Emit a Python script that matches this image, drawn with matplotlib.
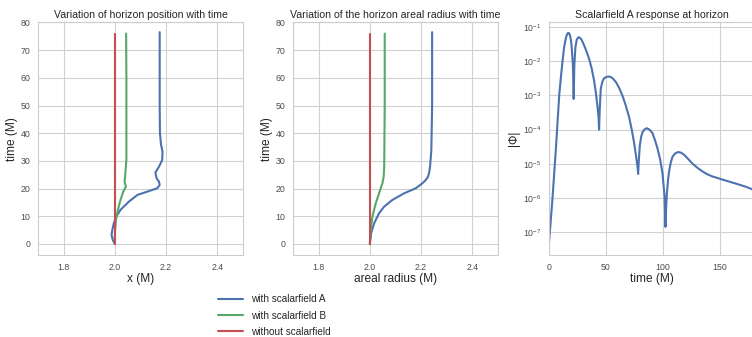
import matplotlib

matplotlib.use("Agg")
import matplotlib.pyplot as plt
import seaborn as sns

# panel 1: horizon position
t_pos_a = [0, 1.4, 3.3, 5, 7.5, 9.9, 12.3, 15.3, 17.7, 18.9, 20.1, 21.3, 22.5, 23.7, 25.8, 28, 30.4, 33.4, 36, 40, 50, 60, 76.5]
x_pos_a = [2.0, 1.992, 1.987, 1.99, 1.996, 2.006, 2.022, 2.055, 2.088, 2.127, 2.165, 2.175, 2.172, 2.163, 2.158, 2.173, 2.185, 2.186, 2.18, 2.176, 2.175, 2.175, 2.175]
t_pos_b = [0, 3.9, 8.7, 12.3, 15.9, 18.9, 20.7, 22.5, 25.5, 30.4, 40, 60, 76]
x_pos_b = [2.0, 2.0, 2.004, 2.012, 2.022, 2.033, 2.043, 2.038, 2.041, 2.045, 2.045, 2.045, 2.044]
t_pos_0 = [0, 76]
x_pos_0 = [2.0, 2.0]

# panel 2: areal radius
t_rad_a = [0, 3.9, 7.5, 11.1, 13.5, 15.9, 18.3, 20.1, 21.9, 23.2, 24.3, 26, 28, 34, 50, 76.5]
r_rad_a = [2.0, 2.005, 2.017, 2.036, 2.056, 2.088, 2.134, 2.179, 2.205, 2.219, 2.227, 2.232, 2.235, 2.240, 2.243, 2.243]
t_rad_b = [0, 5, 9.9, 14.7, 18.3, 21.9, 24.3, 28, 50, 76]
r_rad_b = [2.0, 2.003, 2.010, 2.023, 2.036, 2.049, 2.054, 2.056, 2.058, 2.058]
t_rad_0 = [0, 76]
r_rad_0 = [2.0, 2.0]

# panel 3: |Phi| of scalarfield A at the horizon
t_phi = [0, 1.5, 3, 6, 9, 10.5, 12, 13.3, 14.7, 15.7, 16.7, 17.6, 18.5, 19.3, 20.0, 21.0, 21.7,
         22.3, 23.2, 24.3, 25.3, 26.4, 28.5, 30.8, 33, 35.2, 37.5, 39.6, 41.2, 42.5, 43.5, 44.0,
         44.6, 45.5, 47, 48.4, 50.5, 52.8, 55.5, 58.7, 61.5, 64.5, 67.5, 70.4, 72.8, 74.8, 76.8,
         77.8, 78.3, 78.9, 79.8, 81, 82.1, 83.8, 85.9, 88.2, 90.9, 93, 95.3, 97.7, 99.7, 101.5,
         102.3, 103.0, 103.5, 104.5, 105.6, 107, 108.5, 110.8, 113.5, 116, 118.8, 122, 126.1,
         130.5, 134.9, 139, 143.7, 148, 152.5, 158, 164.2, 173, 180]
phi = [4.8e-8, 2.0e-7, 8.7e-7, 2.5e-5, 1.0e-3, 3.5e-3, 1.07e-2, 2.6e-2, 4.6e-2, 6.0e-2,
       6.8e-2, 6.7e-2, 5.8e-2, 4.2e-2, 2.5e-2, 7.9e-3, 7.9e-4, 7.9e-3, 2.5e-2, 4.2e-2, 4.9e-2,
       5.1e-2, 4.4e-2, 3.0e-2, 1.95e-2, 1.2e-2, 6.2e-3, 2.75e-3, 1.2e-3, 5.0e-4, 2.5e-4, 1.0e-4,
       4.0e-4, 1.6e-3, 2.6e-3, 3.2e-3, 3.5e-3, 3.6e-3, 3.3e-3, 2.5e-3, 1.7e-3, 1.0e-3, 5.0e-4,
       2.3e-4, 9.5e-5, 4.0e-5, 1.4e-5, 7.9e-6, 5.0e-6, 1.26e-5, 3.5e-5, 6.2e-5, 8.3e-5, 1.0e-4,
       1.1e-4, 1.0e-4, 7.9e-5, 5.0e-5, 2.8e-5, 1.3e-5, 5.2e-6, 1.1e-6, 1.4e-7, 6.3e-7, 1.26e-6,
       3.2e-6, 6.3e-6, 1.1e-5, 1.6e-5, 2.0e-5, 2.2e-5, 2.1e-5, 1.8e-5, 1.4e-5, 1.0e-5, 7.5e-6,
       5.9e-6, 4.9e-6, 4.2e-6, 3.8e-6, 3.4e-6, 3.0e-6, 2.6e-6, 2.1e-6, 1.7e-6]

labels = ["with scalarfield A", "with scalarfield B", "without scalarfield"]
colors = ["#4C72B0", "#55A868", "#C44E52"]

sns.set_style("whitegrid", {"axes.edgecolor": ".8", "grid.color": ".82"})
plt.rcParams["font.family"] = ["Liberation Sans", "DejaVu Sans"]
plt.rcParams["xtick.labelsize"] = 6.3
plt.rcParams["ytick.labelsize"] = 6.3
plt.rcParams["xtick.color"] = ".3"
plt.rcParams["ytick.color"] = ".3"

fig = plt.figure(figsize=(7.52, 3.37), dpi=100)
ax1 = fig.add_axes([0.0505, 0.2433, 0.2726, 0.690])
ax2 = fig.add_axes([0.3896, 0.2433, 0.2726, 0.690])
ax3 = fig.add_axes([0.730, 0.2433, 0.2726, 0.690])

lw = 1.5
ax1.plot(x_pos_a, t_pos_a, color=colors[0], lw=lw, label=labels[0])
ax1.plot(x_pos_b, t_pos_b, color=colors[1], lw=lw, label=labels[1])
ax1.plot(x_pos_0, t_pos_0, color=colors[2], lw=lw, label=labels[2])
ax2.plot(r_rad_a, t_rad_a, color=colors[0], lw=lw)
ax2.plot(r_rad_b, t_rad_b, color=colors[1], lw=lw)
ax2.plot(r_rad_0, t_rad_0, color=colors[2], lw=lw)
ax3.semilogy(t_phi, phi, color=colors[0], lw=lw)

for ax, title, xlabel in [
    (ax1, "Variation of horizon position with time", "x (M)"),
    (ax2, "Variation of the horizon areal radius with time", "areal radius (M)"),
]:
    ax.set_xlim(1.7, 2.5)
    ax.set_ylim(-4, 80)
    ax.set_xticks([1.8, 2.0, 2.2, 2.4])
    ax.set_yticks(range(0, 81, 10))
    ax.set_title(title, fontsize=7.6, pad=3, color=".15")
    ax.set_xlabel(xlabel, fontsize=8.6, labelpad=1, color=".15")
    ax.set_ylabel("time (M)", fontsize=8.6, labelpad=2, color=".15")

ax3.set_xlim(0, 180)
ax3.set_ylim(2.1e-8, 0.138)
ax3.set_xticks([0, 50, 100, 150])
ax3.minorticks_off()
ax3.set_title("Scalarfield A response at horizon", fontsize=7.6, pad=3, color=".15")
ax3.set_xlabel("time (M)", fontsize=8.6, labelpad=1, color=".15")
ax3.set_ylabel("|Φ|", fontsize=8.6, labelpad=2, color=".15")

for ax in (ax1, ax2, ax3):
    ax.tick_params(pad=2)
    for sp in ax.spines.values():
        sp.set_linewidth(0.8)

fig.legend(loc="upper left", bbox_to_anchor=(0.285, 0.138), ncol=1, fontsize=7.2,
           frameon=False, handlelength=2.5, labelspacing=0.62, borderaxespad=0)

fig.savefig("out.png", dpi=100, facecolor="white")
